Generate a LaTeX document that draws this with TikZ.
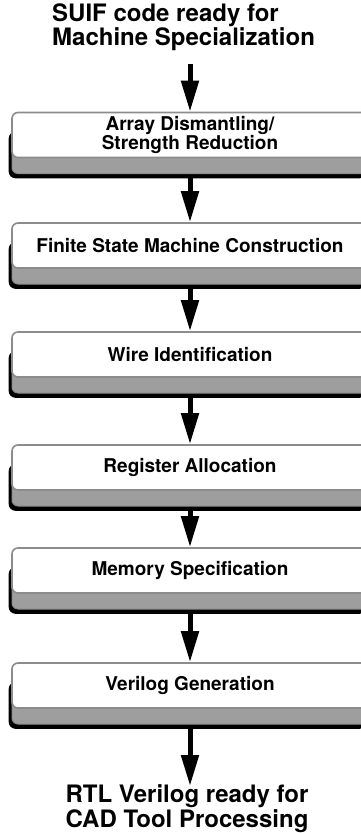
\documentclass[tikz,border=0pt]{standalone}
\usepackage{fontspec}
\setmainfont{TeX Gyre Heros}
\usetikzlibrary{arrows.meta,shadows}
\definecolor{facegray}{gray}{0.55}
\definecolor{bandgray}{gray}{0.62}
\tikzset{
  stage/.style={draw=facegray, line width=1.6pt, fill=white, rounded corners=6pt,
    minimum width=356pt, minimum height=45pt, inner sep=0pt, align=center,
    font=\fontsize{19}{18}\selectfont\bfseries,
    general shadow={shadow xshift=-2.5pt, shadow yshift=-20pt, fill=black, draw=black},
    general shadow={shadow yshift=-16pt, fill=bandgray, draw=facegray, line width=1pt}},
  flow/.style={-{Triangle[length=31pt,width=17pt]}, line width=5pt},
  caption/.style={font=\fontsize{24}{21.5}\selectfont\bfseries, inner sep=0pt}
}
\begin{document}
\begin{tikzpicture}[x=1pt, y=-1pt]
  \useasboundingbox (0,0) rectangle (361,833);

  % input and output descriptions
  \node[caption, align=left, anchor=west] (src) at (52,27) {SUIF code ready for\\Machine Specialization};
  \node[caption, align=center, anchor=south] (dst) at (187,832.5) {RTL Verilog ready for\\CAD Tool Processing};

  % compiler stages
  \node[stage] (b1) at (190,135) {Array Dismantling/\\Strength Reduction};
  \node[stage] (b2) at (190,245.5) {Finite State Machine Construction};
  \node[stage] (b3) at (190,354.5) {Wire Identification};
  \node[stage] (b4) at (190,467.5) {Register Allocation};
  \node[stage] (b5) at (190,570.5) {Memory Specification};
  \node[stage] (b6) at (190,685.5) {Verilog Generation};

  % flow between stages
  \coordinate (in) at (190,64);
  \coordinate (out) at (190,786);
  \draw[flow] (in) -- (b1.north);
  \draw[flow] ([yshift=-19pt]b1.south) -- (b2.north);
  \draw[flow] ([yshift=-19pt]b2.south) -- (b3.north);
  \draw[flow] ([yshift=-19pt]b3.south) -- (b4.north);
  \draw[flow] ([yshift=-19pt]b4.south) -- (b5.north);
  \draw[flow] ([yshift=-19pt]b5.south) -- (b6.north);
  \draw[flow] ([yshift=-19pt]b6.south) -- (out);
\end{tikzpicture}
\end{document}
